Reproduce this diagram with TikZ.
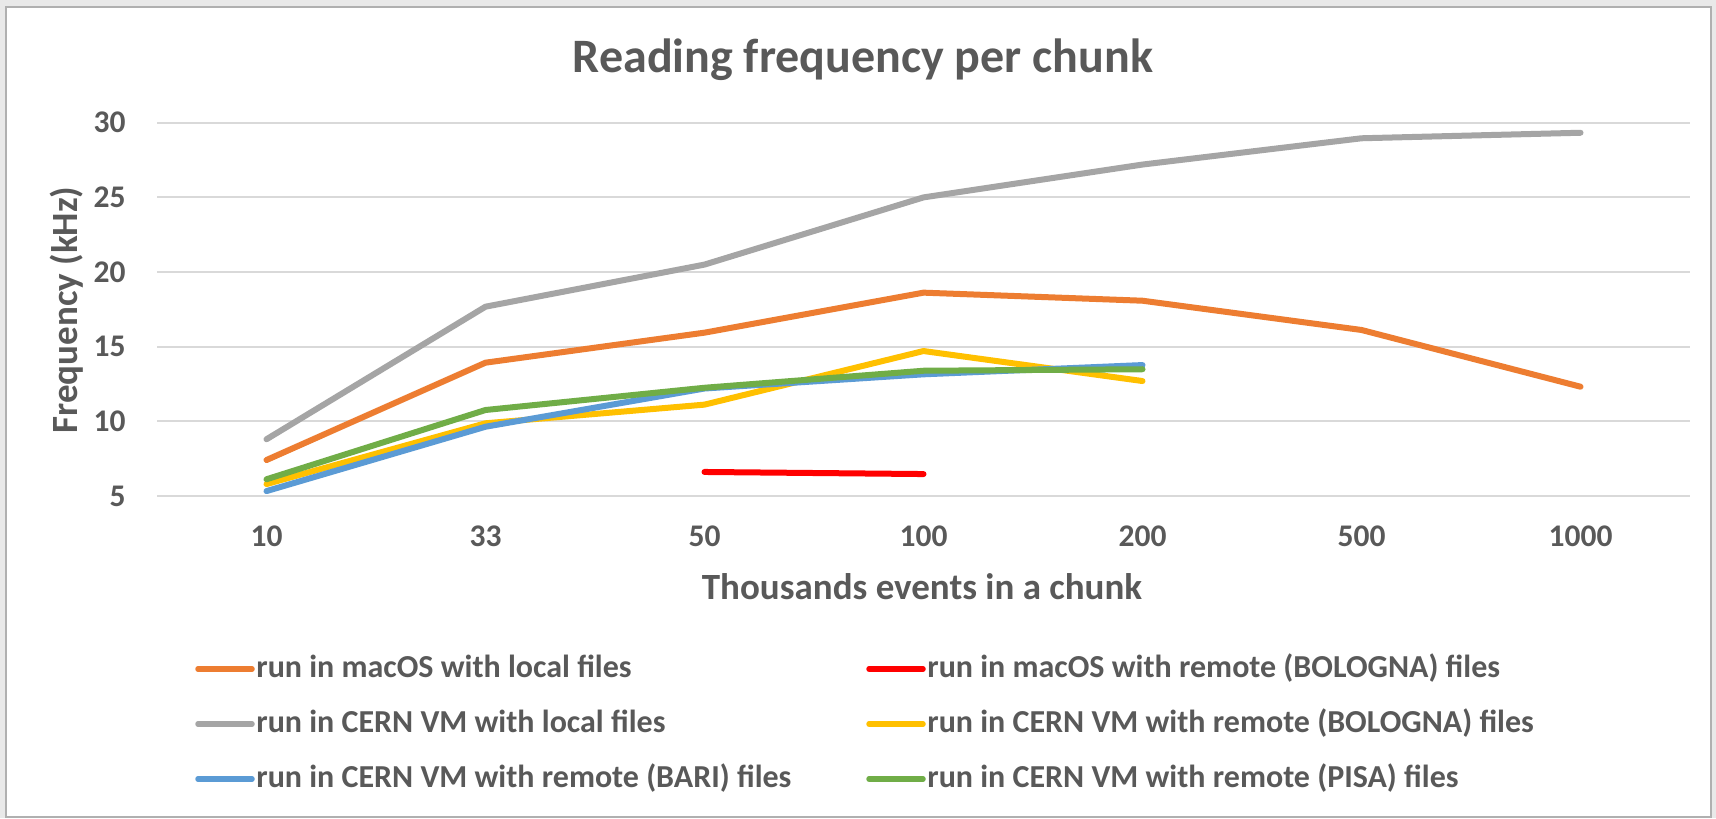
\documentclass[tikz,border=0pt]{standalone}
\usepackage{fontspec}
\setmainfont{Carlito}
\definecolor{txt}{HTML}{595959}
\definecolor{gridc}{HTML}{D9D9D9}
\definecolor{sorange}{HTML}{ED7D31}
\definecolor{sgray}{HTML}{A5A5A5}
\definecolor{syellow}{HTML}{FFC000}
\definecolor{sblue}{HTML}{5B9BD5}
\definecolor{sgreen}{HTML}{70AD47}
\definecolor{sred}{HTML}{FF0000}
\definecolor{outside}{HTML}{E9E9E9}
\definecolor{framec}{HTML}{B0B0B0}
\begin{document}
\begin{tikzpicture}[x=0.5pt,y=-0.5pt,
  declare function={vy(\v)=496-(\v-5)*14.93; cx(\i)=157+219*(\i+0.5);},
  series/.style={line width=3pt,line cap=round,line join=round},
  gridline/.style={draw=gridc,line width=1pt},
  ticklab/.style={font=\bfseries\fontsize{15.75}{18}\selectfont,text=txt,inner sep=0pt},
  axtitle/.style={font=\bfseries\fontsize{18.5}{22}\selectfont,text=txt,inner sep=0pt},
  legtext/.style={font=\bfseries\fontsize{16}{19}\selectfont,text=txt,inner sep=0pt,anchor=base west},
  swatch/.style={line width=2.75pt,line cap=round}]
\useasboundingbox (0,0) rectangle (1716,818);
% window surround and chart area
\fill[outside] (0,0) rectangle (1716,818);
\draw[framec,fill=white,line width=1pt] (6,7.5) rectangle (1711,816.5);

% title
\node[font=\bfseries\fontsize{24}{28}\selectfont,text=txt,inner sep=0pt,anchor=base]
  (title) at (863,73) {Reading frequency per chunk};

% horizontal gridlines and value labels
\foreach \v in {5,10,...,30} {
  \draw[gridline] (157,{vy(\v)}) -- (1690,{vy(\v)});
  \node[ticklab,anchor=base east] (y\v) at (126,{vy(\v)+10}) {\v};
}

% category labels
\foreach \lab [count=\i from 0] in {10,33,50,100,200,500,1000}
  \node[ticklab,anchor=base] (x\i) at ({cx(\i)},546) {\lab};

% axis titles
\node[axtitle,anchor=base] (xtitle) at (922,599) {Thousands events in a chunk};
\node[axtitle,rotate=90] (ytitle) at (67,310) {Frequency (kHz)};

% data series
\draw[series,sorange] ({cx(0)},{vy(7.41)})
  \foreach \v [count=\i from 1] in {13.93,15.94,18.62,18.08,16.12,12.32} { -- ({cx(\i)},{vy(\v)}) };
\draw[series,sred] ({cx(2)},{vy(6.61)}) -- ({cx(3)},{vy(6.47)});
\draw[series,sgray] ({cx(0)},{vy(8.8)})
  \foreach \v [count=\i from 1] in {17.68,20.5,25.0,27.2,28.96,29.33} { -- ({cx(\i)},{vy(\v)}) };
\draw[series,syellow] ({cx(0)},{vy(5.8)})
  \foreach \v [count=\i from 1] in {9.87,11.12,14.71,12.7} { -- ({cx(\i)},{vy(\v)}) };
\draw[series,sblue] ({cx(0)},{vy(5.33)})
  \foreach \v [count=\i from 1] in {9.64,12.2,13.15,13.77} { -- ({cx(\i)},{vy(\v)}) };
\draw[series,sgreen] ({cx(0)},{vy(6.12)})
  \foreach \v [count=\i from 1] in {10.76,12.25,13.39,13.49} { -- ({cx(\i)},{vy(\v)}) };

% legend
\foreach \c/\lx/\ly/\t [count=\n] in {
  sorange/198/669/run in macOS with local files,
  sgray/198/724/run in CERN VM with local files,
  sblue/198/779/run in CERN VM with remote (BARI) files,
  sred/869/669/run in macOS with remote (BOLOGNA) files,
  syellow/869/724/run in CERN VM with remote (BOLOGNA) files,
  sgreen/869/779/run in CERN VM with remote (PISA) files} {
  \coordinate (sw\n a) at (\lx,\ly);
  \coordinate (sw\n b) at (\lx+54,\ly);
  \draw[swatch,\c] (sw\n a) -- (sw\n b);
  \node[legtext] (leg\n) at (\lx+58,\ly+8) {\t};
}
\end{tikzpicture}
\end{document}
